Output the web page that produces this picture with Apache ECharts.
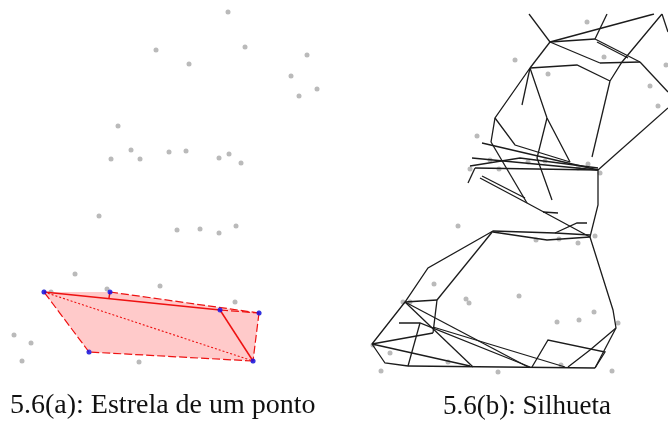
<!DOCTYPE html>
<html>
<head>
<meta charset="utf-8">
<script src="https://cdn.jsdelivr.net/npm/echarts@6/dist/echarts.min.js"></script>
<style>html,body{margin:0;padding:0;background:#fff;}#c{width:668px;height:430px;}</style>
</head>
<body>
<div id="c"></div>
<script>
// Point set (same data drawn in both panels)
var points = [
  [228,12],[156,50],[189,64],[245,47],[307,55],[291,76],[317,89],[299,96],
  [118,126],[131,150],[111,159],[140,159],[169,152],[186,151],[219,158],[229,154],[241,163],
  [99,216],[177,230],[200,229],[219,233],[236,226],[75,274],[160,286],[107,289],[51,292],
  [235,302],[14,335],[31,343],[22,361],[139,362],
  [44,292],[110,293],[220,310],[259,313],[253,361],[89,352],[198,312],[202,355]
];
// Star polygon of a point (panel a)
var starPolygon = [[44,292],[110,292],[259,313],[253,361],[89,352]];
var starVertices = [[44,292],[110,292],[220,310],[259,313],[253,361],[89,352]];
var starSolid = [
  [[44,292],[220,310]],
  [[220,310],[253,361]],
  [[110,292],[109,298]]
];
var starDashed = [
  [[110,292],[259,313]],
  [[220,310],[259,313]],
  [[259,313],[253,361]],
  [[253,361],[89,352]],
  [[89,352],[44,292]]
];
var starDotted = [
  [[44,292],[253,361]]
];
// Silhouette segments (panel b)
var silhouette = [
  [[170,4],[191,32]],
  [[191,32],[295,4]],
  [[191,32],[236,29]],
  [[248,4],[236,29]],
  [[236,29],[281,52]],
  [[238,32],[269,48]],
  [[191,32],[241,53]],
  [[241,53],[281,52]],
  [[281,52],[309,82]],
  [[303,4],[263,52],[251,71]],
  [[303,4],[309,22]],
  [[191,32],[171,58]],
  [[171,58],[218,55],[251,71]],
  [[251,71],[233,147]],
  [[171,58],[136,108],[132,132]],
  [[171,58],[163,95]],
  [[171,58],[188,108],[211,152]],
  [[188,108],[178,148],[193,190]],
  [[136,108],[156,135],[211,152]],
  [[309,98],[239,160]],
  [[239,160],[239,195],[231,227]],
  [[123,133],[239,160]],
  [[113,148],[239,160]],
  [[116,158],[239,160]],
  [[111,156],[161,148],[239,158]],
  [[116,158],[109,173]],
  [[121,168],[168,193],[231,227]],
  [[123,166],[166,188]],
  [[132,132],[168,193]],
  [[184,202],[199,203]],
  [[134,221],[196,223],[231,225]],
  [[134,222],[188,230],[231,227]],
  [[196,223],[218,213],[228,213]],
  [[231,227],[254,300],[257,318]],
  [[134,221],[69,258],[46,292],[13,334]],
  [[134,221],[78,290]],
  [[78,290],[46,292]],
  [[78,290],[74,323]],
  [[74,323],[13,334]],
  [[13,334],[26,353],[49,356]],
  [[49,356],[236,358]],
  [[40,313],[61,313],[171,357]],
  [[61,313],[49,356]],
  [[46,292],[114,357]],
  [[46,292],[169,357]],
  [[74,317],[206,357]],
  [[13,334],[111,356]],
  [[173,357],[189,330],[246,342],[236,358]],
  [[209,357],[231,340],[257,318]],
  [[236,358],[257,318]]
];
var captions = ['5.6(a): Estrela de um ponto', '5.6(b): Silhueta'];

var chart = echarts.init(document.getElementById('c'), null, {renderer: 'canvas'});
function toLines(arr){ return arr.map(function(s){ return {coords: s}; }); }
var option = {
  animation: false,
  backgroundColor: '#ffffff',
  grid: [
    {left: 0, top: 0, width: 334, height: 380},
    {left: 359, top: 14, width: 309, height: 376}
  ],
  xAxis: [
    {gridIndex: 0, type: 'value', min: 0, max: 334, show: false},
    {gridIndex: 1, type: 'value', min: 0, max: 309, show: false}
  ],
  yAxis: [
    {gridIndex: 0, type: 'value', min: 0, max: 380, inverse: true, show: false},
    {gridIndex: 1, type: 'value', min: 4, max: 380, inverse: true, show: false}
  ],
  graphic: [
    {type: 'text', left: 10, top: 392, style: {text: captions[0], font: '28px "Liberation Serif"', fill: '#111'}},
    {type: 'text', left: 443, top: 393, style: {text: captions[1], font: '27px "Liberation Serif"', fill: '#111'}}
  ],
  series: [
    {type: 'scatter', xAxisIndex: 0, yAxisIndex: 0, data: points, symbolSize: 5,
     itemStyle: {color: '#a9a9a9'}, z: 1, silent: true},
    {type: 'custom', xAxisIndex: 0, yAxisIndex: 0, data: [0], z: 2, silent: true,
     renderItem: function(params, api){
       return {type: 'polygon', shape: {points: starPolygon.map(function(p){ return api.coord(p); })},
               style: {fill: '#ffcaca'}};
     }},
    {type: 'lines', coordinateSystem: 'cartesian2d', xAxisIndex: 0, yAxisIndex: 0, polyline: true, z: 3,
     data: toLines(starSolid), lineStyle: {color: '#ee1111', width: 1.5, opacity: 1}, silent: true},
    {type: 'lines', coordinateSystem: 'cartesian2d', xAxisIndex: 0, yAxisIndex: 0, polyline: true, z: 3,
     data: toLines(starDashed), lineStyle: {color: '#ee1111', width: 1.2, type: [8, 3], opacity: 1}, silent: true},
    {type: 'lines', coordinateSystem: 'cartesian2d', xAxisIndex: 0, yAxisIndex: 0, polyline: true, z: 3,
     data: toLines(starDotted), lineStyle: {color: '#ee1111', width: 1.1, type: [2, 2], opacity: 1}, silent: true},
    {type: 'scatter', xAxisIndex: 0, yAxisIndex: 0, data: starVertices, symbolSize: 5,
     itemStyle: {color: '#1010ee'}, z: 4, silent: true},
    {type: 'scatter', xAxisIndex: 1, yAxisIndex: 1, data: points, symbolSize: 5,
     itemStyle: {color: '#a9a9a9'}, z: 1, silent: true},
    {type: 'lines', coordinateSystem: 'cartesian2d', xAxisIndex: 1, yAxisIndex: 1, polyline: true, z: 3,
     data: toLines(silhouette), lineStyle: {color: '#1c1c1c', width: 1.3, opacity: 1}, silent: true}
  ]
};
chart.setOption(option);
</script>
</body>
</html>
